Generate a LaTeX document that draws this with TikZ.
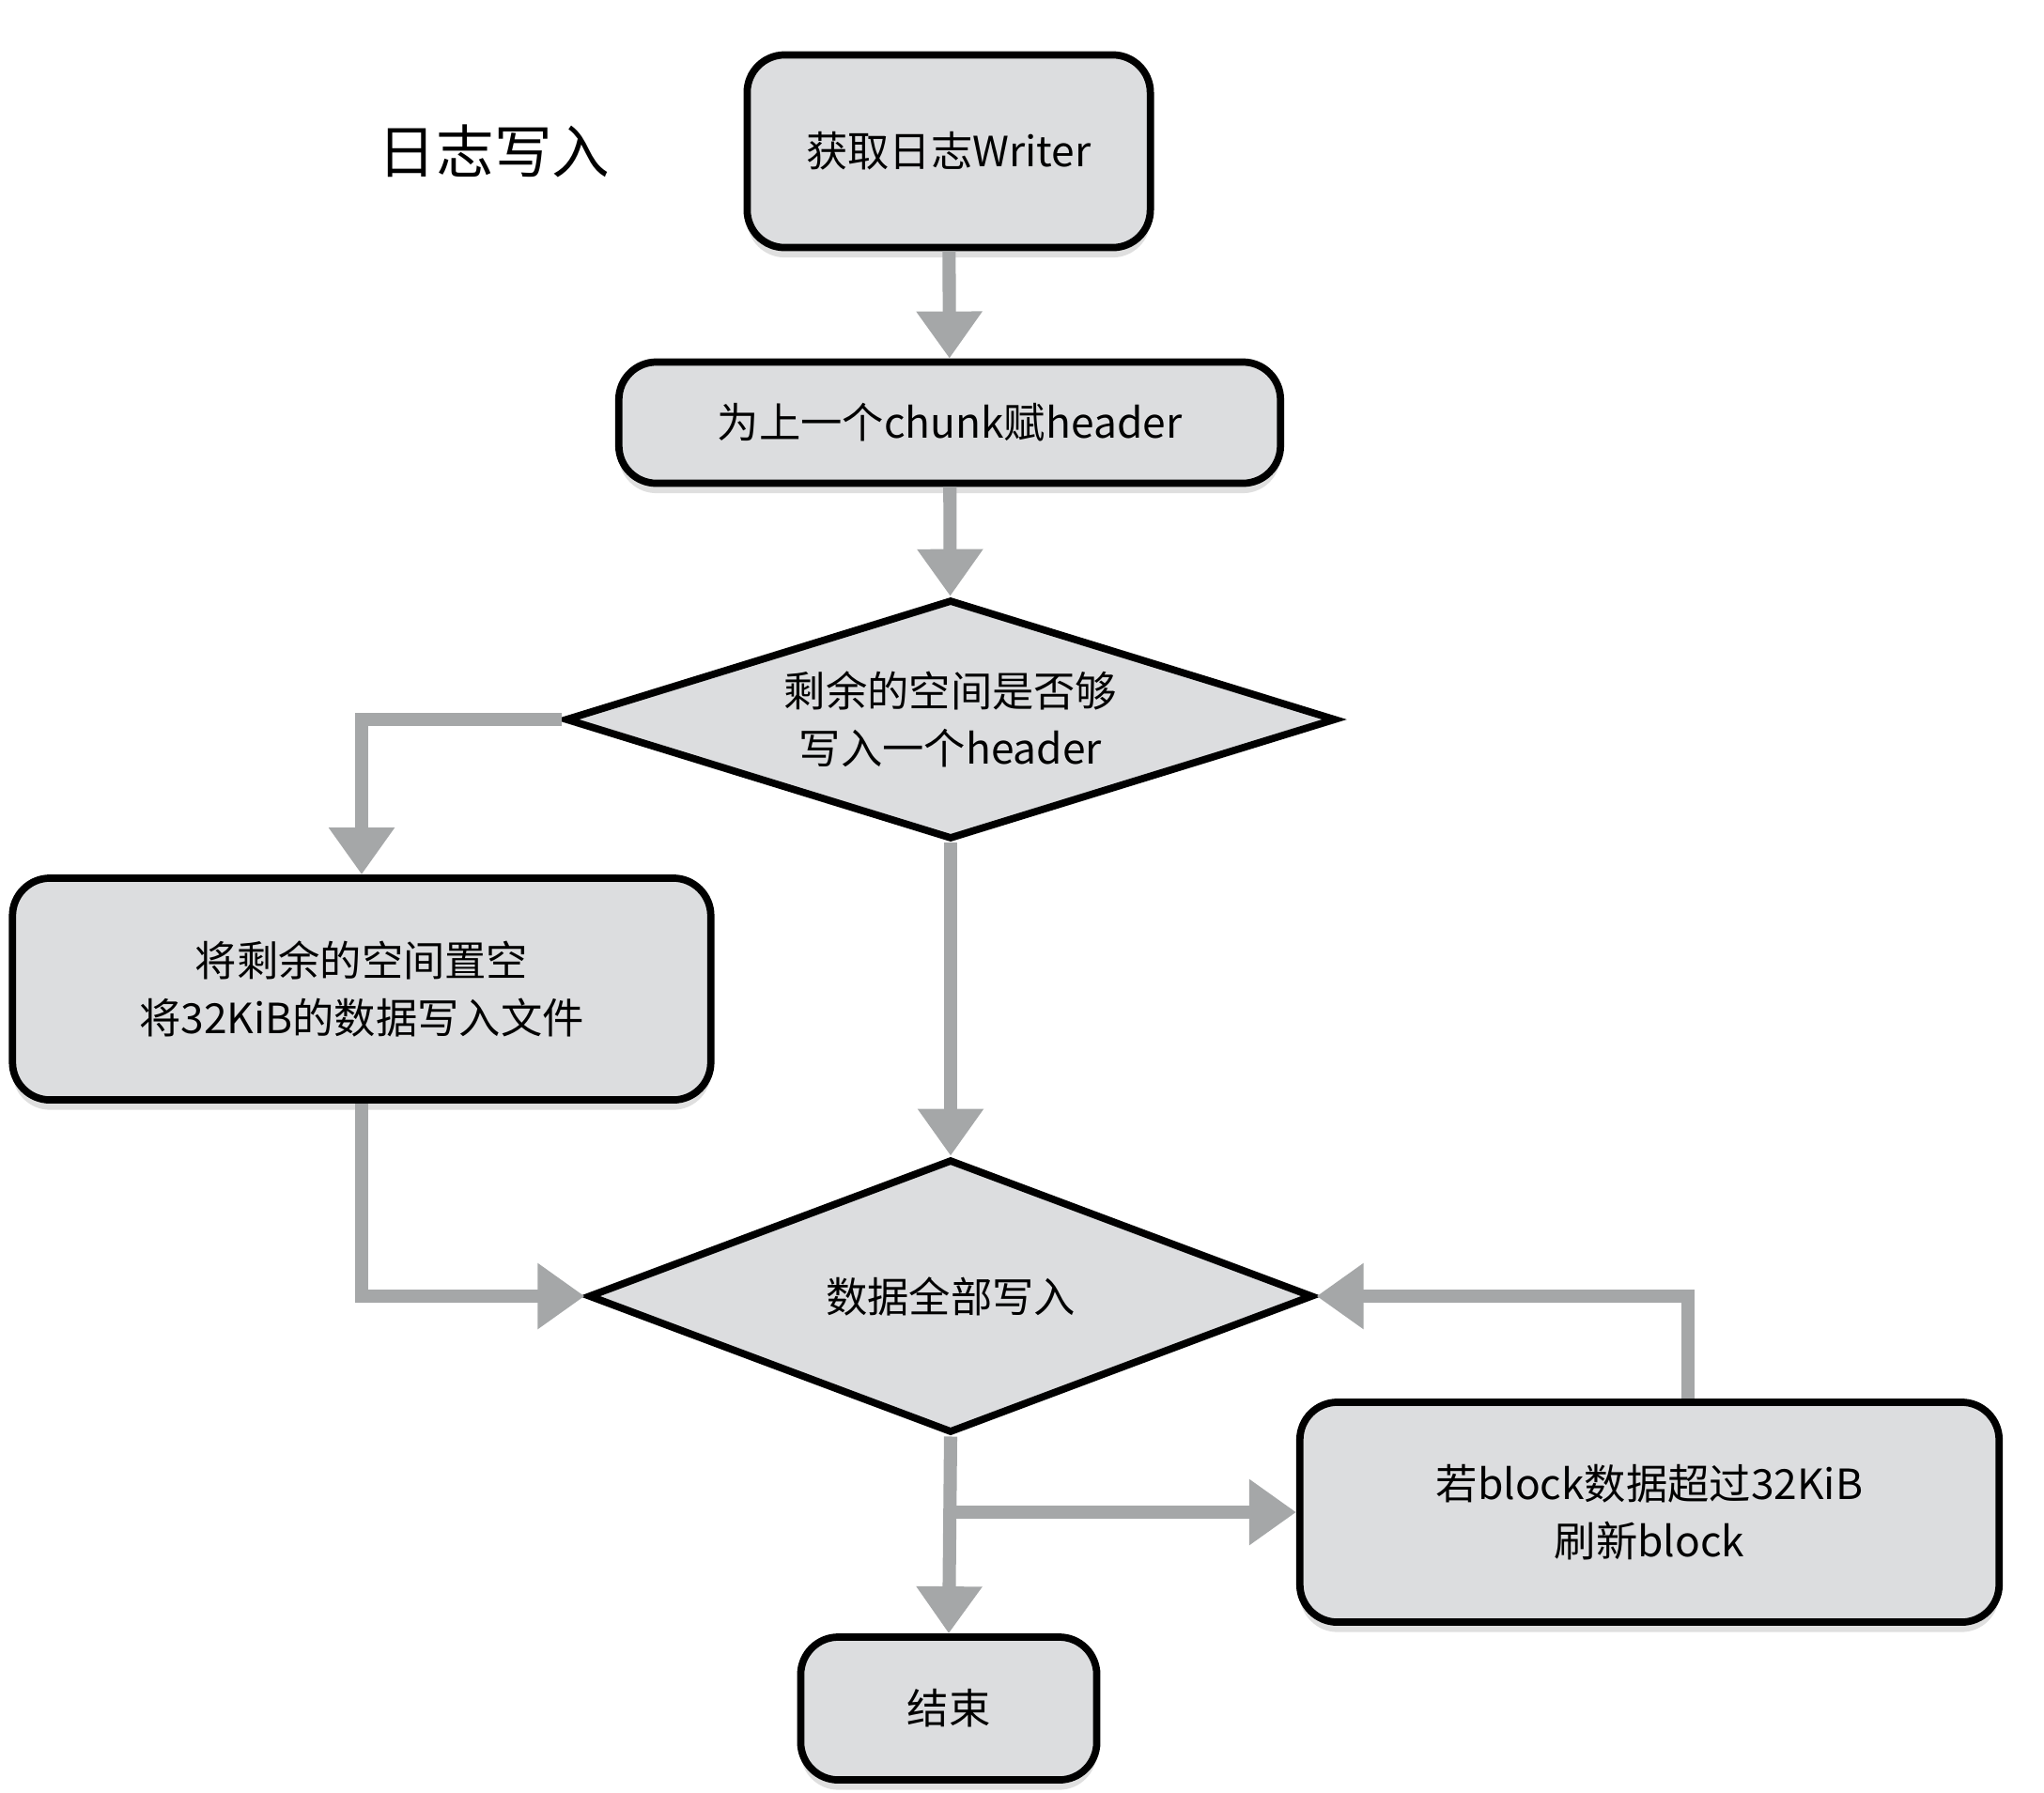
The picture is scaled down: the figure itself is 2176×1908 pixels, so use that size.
\documentclass[tikz,border=0pt]{standalone}
\usepackage{fontspec}
\setmainfont{Noto Sans CJK SC}
\usetikzlibrary{shapes.geometric,arrows.meta,shadows}
\definecolor{boxfill}{HTML}{DCDDDF}
\definecolor{flowgray}{HTML}{A5A7A8}
\begin{document}
\begin{tikzpicture}[x=0.01cm,y=-0.01cm,
    txt/.style={font=\fontsize{12.6}{17.5}\selectfont, align=center},
    box/.style={txt, draw=black, line width=2.2pt, fill=boxfill, rounded corners=0.4cm,
      drop shadow={shadow xshift=0pt, shadow yshift=-3pt, opacity=0.25}},
    test/.style={txt, diamond, draw=black, line width=2.2pt, fill=boxfill, aspect=3.2, inner sep=0pt},
    flow/.style={draw=flowgray, line width=4pt, -{Triangle[width=0.67cm,length=0.5cm]}}]
  \useasboundingbox (0,0) rectangle (2176,1908);
  \path (526,161)   node (title) {\fontsize{17.5}{20}\selectfont 日志写入}
        (1010,161)  node[box, minimum width=4.29cm, minimum height=2.05cm] (getw) {获取日志Writer}
        (1011,450)  node[box, minimum width=7.04cm, minimum height=1.29cm] (hdr) {为上一个chunk赋header}
        (1012,766)  node[test, minimum width=8.2cm, minimum height=2.55cm] (room) {剩余的空间是否够\\写入一个header}
        (385,1053)  node[box, minimum width=7.43cm, minimum height=2.36cm] (pad) {将剩余的空间置空\\将32KiB的数据写入文件}
        (1012,1380) node[test, minimum width=7.71cm, minimum height=2.91cm] (done) {数据全部写入}
        (1756,1610) node[box, minimum width=7.44cm, minimum height=2.34cm] (flush) {若block数据超过32KiB\\刷新block}
        (1010,1819) node[box, minimum width=3.15cm, minimum height=1.52cm] (stop) {结束};
  \coordinate (fork) at (done.south |- flush.west);
  \draw[flow] (getw) -- (hdr);
  \draw[flow] (hdr) -- (room);
  \draw[flow] (room.west) -| (pad.north);
  \draw[flow] (room.south) -- (done.north);
  \draw[flow] (pad.south) |- (done.west);
  \draw[flow] ([xshift=0.41cm]flush.north) |- (done.east);
  \draw[flow] (done.south) -- (stop.north);
  \draw[flow] (fork) -- (flush.west);
\end{tikzpicture}
\end{document}
